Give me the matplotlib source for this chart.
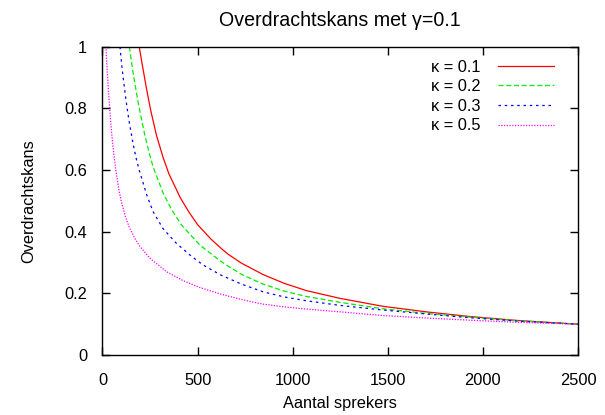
import matplotlib
matplotlib.use('Agg')
import matplotlib.pyplot as plt

# values
kappa_labels = ['κ = 0.1', 'κ = 0.2', 'κ = 0.3', 'κ = 0.5']

n_k01 = [193, 211, 232, 253, 284, 319, 349, 409, 456, 501, 570, 627, 658, 730, 844, 957, 1071, 1246, 1473, 1701, 1928, 2181, 2500]
p_k01 = [1.0, 0.935, 0.862, 0.795, 0.712, 0.64, 0.588, 0.51, 0.462, 0.422, 0.376, 0.344, 0.328, 0.298, 0.261, 0.232, 0.209, 0.184, 0.158, 0.14, 0.125, 0.112, 0.1]

n_k02 = [141, 161, 182, 200, 223, 245, 266, 319, 363, 415, 511, 607, 643, 730, 844, 957, 1071, 1246, 1473, 1701, 1928, 2181, 2500]
p_k02 = [1.0, 0.915, 0.838, 0.78, 0.712, 0.657, 0.61, 0.525, 0.472, 0.422, 0.357, 0.311, 0.295, 0.262, 0.23, 0.207, 0.19, 0.171, 0.15, 0.135, 0.123, 0.111, 0.1]

n_k03 = [92, 102, 113, 123, 134, 144, 162, 179, 193, 232, 266, 318, 389, 468, 529, 620, 730, 844, 957, 1071, 1246, 1473, 1701, 1928, 2181, 2500]
p_k03 = [1.0, 0.935, 0.878, 0.83, 0.782, 0.743, 0.681, 0.633, 0.6, 0.52, 0.465, 0.41, 0.362, 0.32, 0.292, 0.26, 0.23, 0.205, 0.188, 0.176, 0.161, 0.146, 0.133, 0.121, 0.11, 0.1]

n_k05 = [18, 24, 31, 39, 48, 58, 70, 85, 100, 120, 141, 170, 197, 249, 337, 424, 511, 625, 730, 844, 957, 1071, 1246, 1473, 1701, 1928, 2181, 2500]
p_k05 = [1.0, 0.93, 0.86, 0.79, 0.72, 0.66, 0.6, 0.54, 0.495, 0.45, 0.414, 0.378, 0.352, 0.314, 0.27, 0.241, 0.219, 0.197, 0.18, 0.165, 0.156, 0.149, 0.14, 0.128, 0.12, 0.113, 0.106, 0.1]

x_ticks = [0, 500, 1000, 1500, 2000, 2500]
y_ticks = [0, 0.2, 0.4, 0.6, 0.8, 1.0]
y_tick_labels = ['0', '0.2', '0.4', '0.6', '0.8', '1']

plt.rcParams['font.family'] = ['Liberation Sans', 'DejaVu Sans']
plt.rcParams['font.size'] = 11.8

fig = plt.figure(figsize=(6.05, 4.15), dpi=100)
ax = fig.add_axes([0.1694, 0.1446, 0.7860, 0.7429])

ax.plot(n_k01, p_k01, color='#ff0000', lw=0.9, ls='-', label=kappa_labels[0])
ax.plot(n_k02, p_k02, color='#00ee00', lw=0.9, ls=(0, (4.0, 2.2)), label=kappa_labels[1])
ax.plot(n_k03, p_k03, color='#0000ff', lw=0.9, ls=(0, (2.0, 3.0)), label=kappa_labels[2])
ax.plot(n_k05, p_k05, color='#ff00ff', lw=0.9, ls=(0, (1.0, 1.2)), label=kappa_labels[3])

ax.set_xlim(0, 2500)
ax.set_ylim(0, 1)
ax.set_xticks(x_ticks)
ax.set_yticks(y_ticks)
ax.set_yticklabels(y_tick_labels)
ax.tick_params(direction='in', length=6, width=1, top=True, right=True)
ax.tick_params(axis='x', pad=13)
ax.tick_params(axis='y', pad=11)
for s in ax.spines.values():
    s.set_linewidth(1.0)

ax.set_title('Overdrachtskans met γ=0.1', pad=15)
ax.set_xlabel('Aantal sprekers', labelpad=6)
ax.set_ylabel('Overdrachtskans', labelpad=20)

ax.legend(loc='upper right', bbox_to_anchor=(0.9495, 0.958), frameon=False,
          markerfirst=False, handlelength=3.4, handletextpad=1.1,
          labelspacing=0.28, borderpad=0, borderaxespad=0)

fig.savefig('out.png', dpi=100)
